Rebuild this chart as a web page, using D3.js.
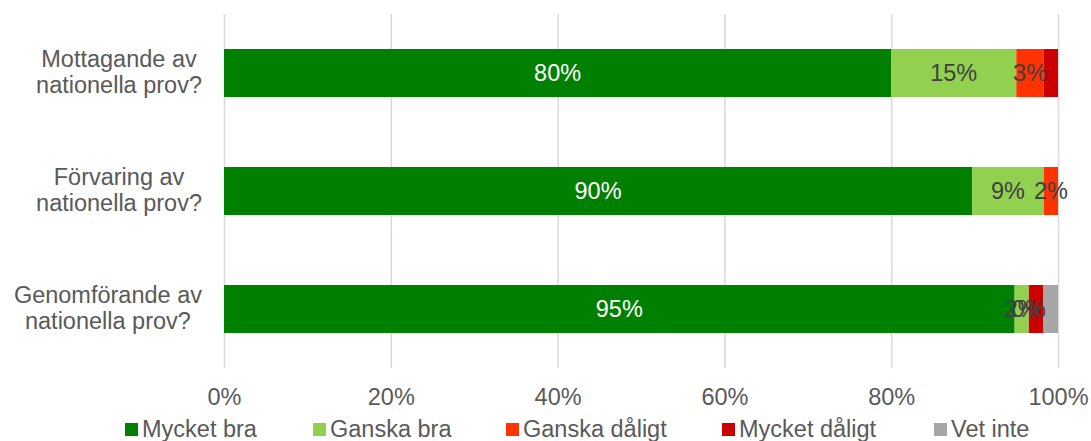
<!DOCTYPE html>
<html>
<head>
<meta charset="utf-8">
<script src="https://cdn.jsdelivr.net/npm/d3@7"></script>
<style>
  body { margin: 0; background: #fff; }
  text { font-family: "Liberation Sans", Arial, sans-serif; }
</style>
</head>
<body>
<div id="chart"></div>
<script>
const categories = [
  ["Mottagande av", "nationella prov?"],
  ["Förvaring av", "nationella prov?"],
  ["Genomförande av", "nationella prov?"]
];
const seriesNames = ["Mycket bra", "Ganska bra", "Ganska dåligt", "Mycket dåligt", "Vet inte"];
const mycketBra = [80.0, 89.7, 94.8];
const ganskaBra = [15.0, 8.6, 1.7];
const ganskaDaligt = [3.3, 1.7, 0];
const mycketDaligt = [1.7, 0, 1.7];
const vetInte = [0, 0, 1.8];
const tickLabels = ["0%", "20%", "40%", "60%", "80%", "100%"];
// only the first three series carry data labels
const labelled = [true, true, true, false, false];

const colors = ["#008000", "#92d050", "#ff3300", "#cc0000", "#a6a6a6"];

function drawChart() {
  const WIDTH = 1091, HEIGHT = 441;
  const margin = { top: 14, right: 33, bottom: 73, left: 224 };
  const innerW = WIDTH - margin.left - margin.right;
  const innerH = HEIGHT - margin.top - margin.bottom;

  const values = [mycketBra, ganskaBra, ganskaDaligt, mycketDaligt, vetInte];
  const rows = categories.map((c, i) => {
    const row = { key: i };
    seriesNames.forEach((s, j) => { row[s] = values[j][i]; });
    return row;
  });
  const stacked = d3.stack().keys(seriesNames)(rows);

  const svg = d3.select("#chart")
    .append("svg")
    .attr("width", WIDTH)
    .attr("height", HEIGHT);

  const g = svg.append("g")
    .attr("transform", `translate(${margin.left}, ${margin.top})`);

  const x = d3.scaleLinear().domain([0, 100]).range([0, innerW]);
  const y = d3.scaleBand()
    .domain(d3.range(categories.length))
    .range([0, innerH])
    .paddingInner(0.593)
    .paddingOuter(0.2965);

  // gridlines + bottom axis labels
  const xAxis = g.append("g")
    .attr("transform", `translate(0, ${innerH})`)
    .call(d3.axisBottom(x).tickValues(d3.range(0, 101, 20))
      .tickSize(-innerH)
      .tickPadding(20)
      .tickFormat((d, i) => tickLabels[i]))
    .call(a => a.select(".domain").remove());
  xAxis.selectAll("line").attr("stroke", "#d9d9d9").attr("stroke-width", 1.5);
  xAxis.selectAll("text")
    .style("font-size", "23.5px")
    .style("fill", "#595959");

  // category labels: lines centred in a block whose right edge sits at 202
  const catG = svg.append("g");
  categories.forEach((lines, i) => {
    const cy = margin.top + y(i) + y.bandwidth() / 2;
    const t = catG.append("text")
      .attr("text-anchor", "middle")
      .style("font-size", "23.5px")
      .style("fill", "#595959");
    const spans = lines.map((l, k) => t.append("tspan")
      .attr("y", cy - 6 + k * 26)
      .text(l));
    const maxW = d3.max(spans, s => s.node().getComputedTextLength());
    spans.forEach(s => s.attr("x", 202 - maxW / 2));
  });

  // bars
  const layers = g.selectAll(".layer")
    .data(stacked)
    .enter()
    .append("g")
    .attr("class", "layer")
    .style("fill", (d, i) => colors[i]);

  layers.selectAll("rect")
    .data(d => d)
    .enter()
    .append("rect")
    .attr("x", d => x(d[0]))
    .attr("y", (d, i) => y(i))
    .attr("width", d => x(d[1]) - x(d[0]))
    .attr("height", y.bandwidth());

  // data labels
  stacked.forEach((layer, j) => {
    if (!labelled[j]) return;
    g.append("g").selectAll("text")
      .data(layer)
      .enter()
      .append("text")
      .attr("x", d => x((d[0] + d[1]) / 2))
      .attr("y", (d, i) => y(i) + y.bandwidth() / 2)
      .attr("dy", "0.36em")
      .attr("text-anchor", "middle")
      .style("font-size", "23.5px")
      .style("fill", j === 0 ? "#ffffff" : "#404040")
      .text(d => Math.round(d[1] - d[0]) + "%");
  });

  // legend
  const legendX = [125, 313, 506, 722, 934];
  const legend = svg.append("g");
  seriesNames.forEach((s, i) => {
    legend.append("rect")
      .attr("x", legendX[i])
      .attr("y", 423)
      .attr("width", 13)
      .attr("height", 13)
      .style("fill", colors[i]);
    legend.append("text")
      .attr("x", legendX[i] + 17)
      .attr("y", 437)
      .style("font-size", "23.5px")
      .style("fill", "#595959")
      .text(s);
  });
}

document.addEventListener("DOMContentLoaded", drawChart);
</script>
</body>
</html>
